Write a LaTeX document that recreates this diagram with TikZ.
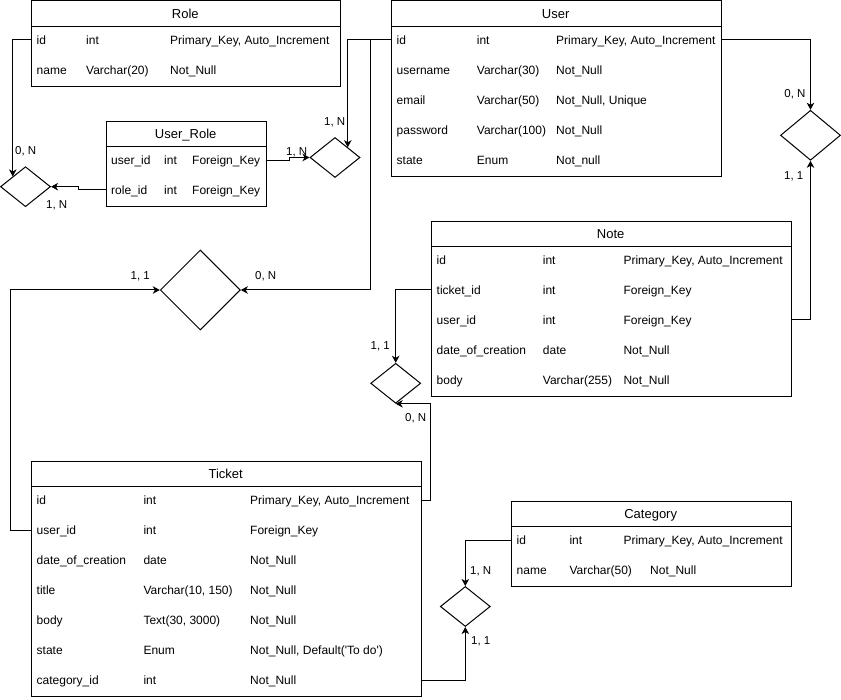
\documentclass[tikz,border=0pt]{standalone}
\usepackage{fontspec}
\setmainfont{Liberation Sans}
\usetikzlibrary{shapes.geometric,arrows.meta,calc}

\tikzset{
  tablebox/.style={draw, line width=1pt, rectangle, inner sep=0pt},
  tableline/.style={line width=1pt},
  titletext/.style={inner sep=0pt, font=\fontsize{13}{15}\selectfont, text height=9.3pt, text depth=0pt},
  rowbox/.style={rectangle, inner sep=0pt, minimum height=30pt},
  cell/.style={anchor=west, inner sep=0pt, font=\fontsize{12}{14}\selectfont, text height=8.6pt, text depth=0pt},
  relation/.style={draw, line width=1pt, diamond, inner sep=0pt},
  conn/.style={draw, line width=1pt, -{Stealth[length=7pt,width=7.5pt,inset=2pt]}},
  card/.style={inner sep=0pt, font=\fontsize{11.5}{13}\selectfont, text height=8.3pt, text depth=0pt},
}

% table frame: name, left, right, top, header bottom, bottom, title
\newcommand\erTable[7]{%
  \node[tablebox, minimum width={#3-#2}, minimum height={#6-#4}, anchor=north west] (#1) at (#2,#4) {};
  \draw[tableline] (#2,#5) -- (#3,#5);
  \node[titletext] (#1-title) at ({(#2+#3)/2},{(#4+#5)/2}) {#7};
  \def\tabL{#2}\def\tabR{#3}}

% table row: name, y, three column texts
\newcommand\erRow[5]{%
  \node[rowbox, minimum width={\tabR-\tabL}] (#1) at ({(\tabL+\tabR)/2},#2) {};
  \node[cell] (#1-a) at (\colA,#2) {#3};
  \node[cell] (#1-b) at (\colB,#2) {#4};
  \node[cell] (#1-c) at (\colC,#2) {#5};}

\begin{document}
\begin{tikzpicture}[x=1pt,y=-1pt]
\useasboundingbox (0,0) rectangle (841,700);

% ---------- Role ----------
\erTable{role}{30.7}{340}{0.5}{26.5}{86.5}{Role}
\def\colA{36.5}\def\colB{86}\def\colC{170}
\erRow{role-id}{40}{id}{int}{Primary\_Key, Auto\_Increment}
\erRow{role-name}{70}{name}{Varchar(20)}{Not\_Null}

% ---------- User ----------
\erTable{user}{390.7}{720.7}{0.5}{26.5}{176.5}{User}
\def\colA{396.5}\def\colB{476.7}\def\colC{556}
\erRow{user-id}{40}{id}{int}{Primary\_Key, Auto\_Increment}
\erRow{user-name}{70}{username}{Varchar(30)}{Not\_Null}
\erRow{user-email}{100}{email}{Varchar(50)}{Not\_Null, Unique}
\erRow{user-pass}{130}{password}{Varchar(100)}{Not\_Null}
\erRow{user-state}{160}{state}{Enum}{Not\_null}

% ---------- User_Role ----------
\erTable{ur}{105.7}{265.7}{120.7}{146.7}{206.3}{User\_Role}
\def\colA{111}\def\colB{164}\def\colC{192}
\erRow{ur-user}{160.7}{user\_id}{int}{Foreign\_Key}
\erRow{ur-role}{190}{role\_id}{int}{Foreign\_Key}

% ---------- Note ----------
\erTable{note}{430.7}{790.7}{220.7}{246.3}{396.3}{Note}
\def\colA{436.5}\def\colB{542.7}\def\colC{623.3}
\erRow{note-id}{260}{id}{int}{Primary\_Key, Auto\_Increment}
\erRow{note-ticket}{290}{ticket\_id}{int}{Foreign\_Key}
\erRow{note-user}{320}{user\_id}{int}{Foreign\_Key}
\erRow{note-date}{350}{date\_of\_creation}{date}{Not\_Null}
\erRow{note-body}{380}{body}{Varchar(255)}{Not\_Null}

% ---------- Ticket ----------
\erTable{tk}{30.7}{420.7}{460.7}{486.3}{696}{Ticket}
\def\colA{36.5}\def\colB{143.3}\def\colC{250}
\erRow{tk-id}{500}{id}{int}{Primary\_Key, Auto\_Increment}
\erRow{tk-user}{530}{user\_id}{int}{Foreign\_Key}
\erRow{tk-date}{560}{date\_of\_creation}{date}{Not\_Null}
\erRow{tk-title}{590}{title}{Varchar(10, 150)}{Not\_Null}
\erRow{tk-body}{620}{body}{Text(30, 3000)}{Not\_Null}
\erRow{tk-state}{650}{state}{Enum}{Not\_Null, Default(\textquotesingle To do\textquotesingle)}
\erRow{tk-cat}{680}{category\_id}{int}{Not\_Null}

% ---------- Category ----------
\erTable{cat}{510.7}{790.7}{500.7}{526.3}{586.3}{Category}
\def\colA{516.5}\def\colB{569.3}\def\colC{623.3}
\erRow{cat-id}{540}{id}{int}{Primary\_Key, Auto\_Increment}
\def\colC{650}
\erRow{cat-name}{570}{name}{Varchar(50)}{Not\_Null}

% ---------- relationship diamonds ----------
\node[relation, minimum width=50pt, minimum height=40pt] (d1) at (25.5,186.7) {};
\node[relation, minimum width=50pt, minimum height=40pt] (d2) at (335,157.5) {};
\node[relation, minimum width=80pt, minimum height=80pt] (d3) at (200.3,290) {};
\node[relation, minimum width=60pt, minimum height=50pt] (d4) at (810.5,135.3) {};
\node[relation, minimum width=50pt, minimum height=40pt] (d5) at (395.7,383.3) {};
\node[relation, minimum width=50pt, minimum height=40pt] (d6) at (465.3,606.5) {};

% ---------- connectors ----------
\draw[conn] (role-id.west) -| (d1.north west);
\draw[conn] (ur-role.west) -- ++(-27.5,0) |- (d1.east);
\draw[conn] (ur-user.east) -- ++(24,0) |- (d2.west);
\draw[conn] (user-id.west) -| (d2.north east);
\draw[conn] (user-id.west) -- ++(-20,0) |- (d3.east);
\draw[conn] (tk-user.west) -- ++(-20,0) |- (d3.west);
\draw[conn] (user-id.east) -| (d4.north);
\draw[conn] (note-user.east) -| (d4.south);
\draw[conn] (note-ticket.west) -| (d5.north);
\draw[conn] (tk-id.east) -- ++(10,0) |- (d5.south);
\draw[conn] (cat-id.west) -| (d6.north);
\draw[conn] (tk-cat.east) -| (d6.south);

% ---------- cardinalities ----------
\node[card, anchor=west] (k1) at (15,150) {0, N};
\node[card, anchor=west] (k2) at (46,204) {1, N};
\node[card, anchor=west] (k3) at (286,151.7) {1, N};
\node[card, anchor=east] (k4) at (345.5,121.7) {1, N};
\node[card, anchor=west] (k5) at (255,275) {0, N};
\node[card, anchor=east] (k6) at (150,275) {1, 1};
\node[card, anchor=east] (k7) at (805.7,93.3) {0, N};
\node[card, anchor=east] (k8) at (803.5,175) {1, 1};
\node[card, anchor=east] (k9) at (390,345) {1, 1};
\node[card, anchor=west] (k10) at (405,417.3) {0, N};
\node[card, anchor=west] (k11) at (470,570.7) {1, N};
\node[card, anchor=west] (k12) at (471,640.7) {1, 1};
\end{tikzpicture}
\end{document}
